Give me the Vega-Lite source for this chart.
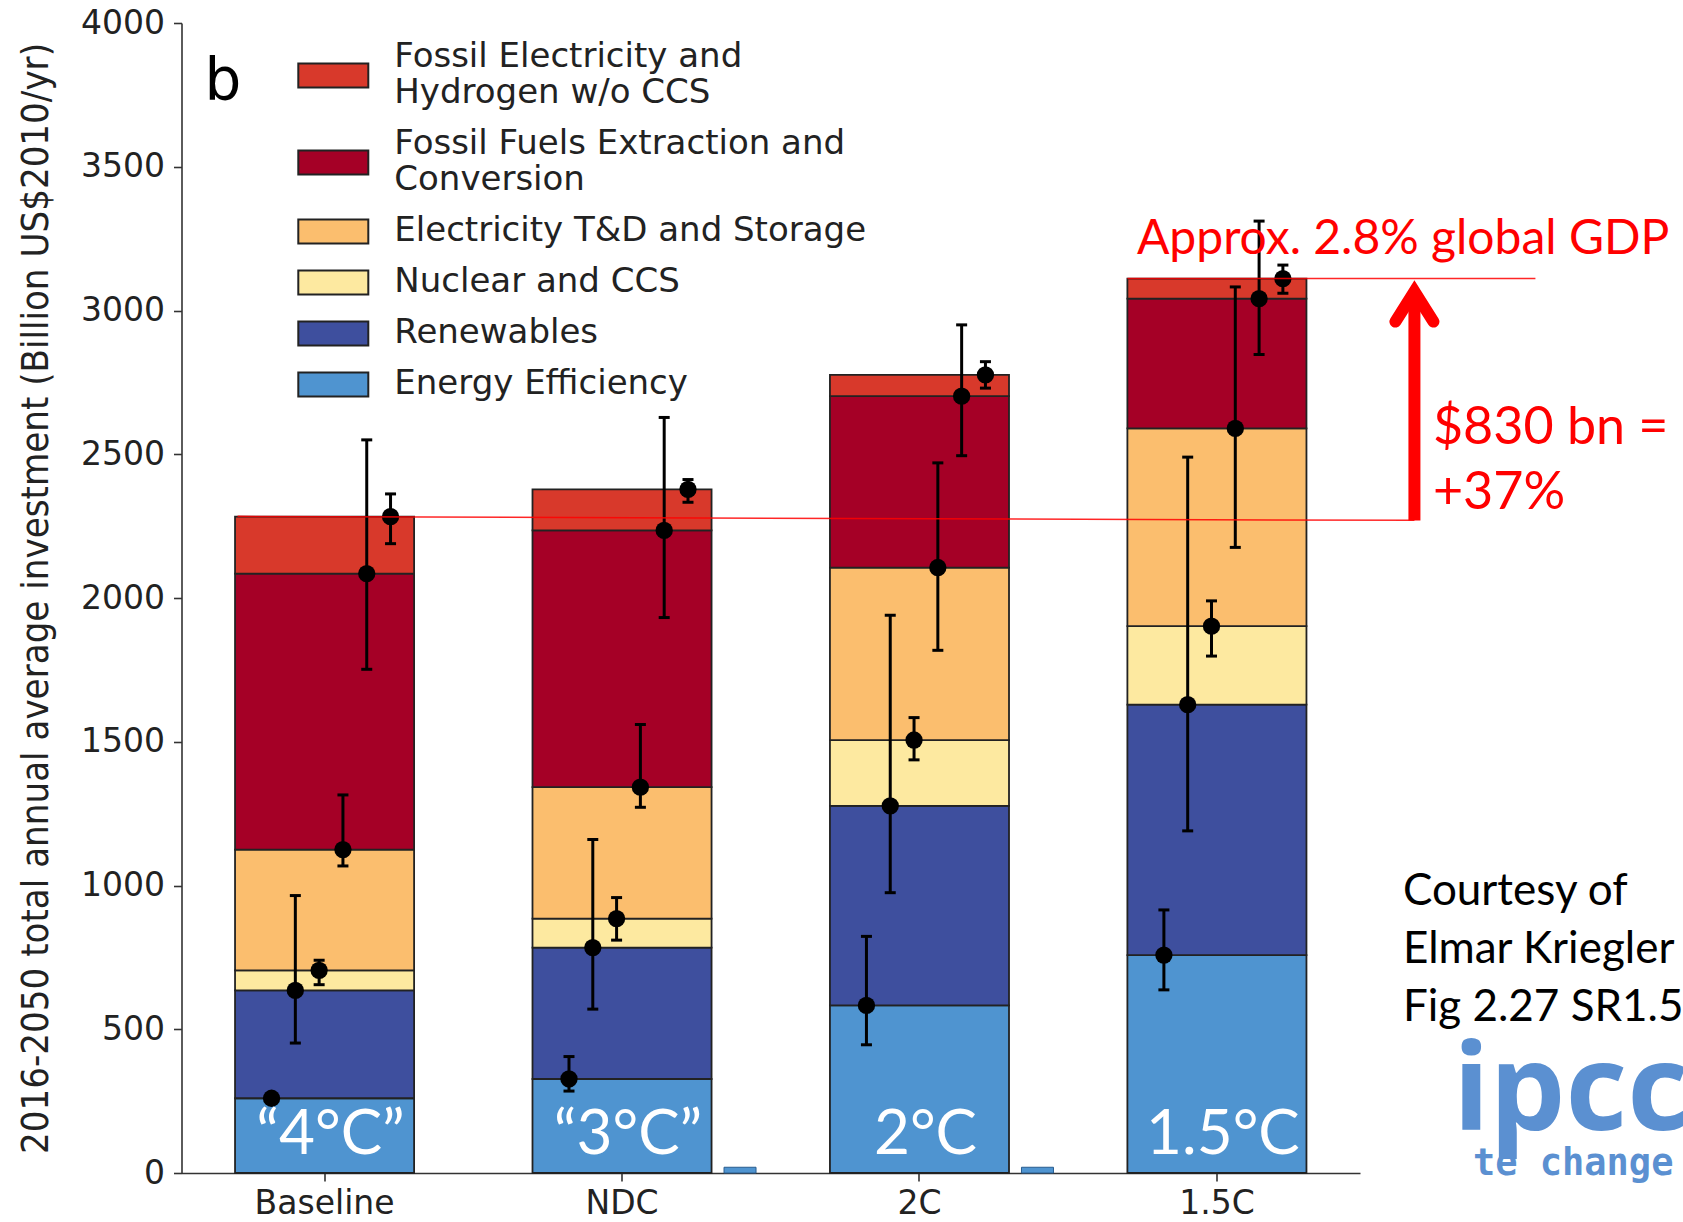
{
  "$schema": "https://vega.github.io/schema/vega-lite/v6.json",
  "width": 1178.5,
  "height": 1150,
  "autosize": {"type": "none"},
  "padding": {"left": 181.5, "top": 23, "right": 323, "bottom": 49},
  "background": "white",
  "config": {
    "view": {"stroke": null},
    "font": "DejaVu Sans",
    "axis": {
      "grid": false,
      "domainColor": "#333333",
      "domainWidth": 1.6,
      "tickColor": "#333333",
      "tickWidth": 1.6,
      "tickSize": 8,
      "labelColor": "#222222",
      "labelFont": "DejaVu Sans",
      "labelFontSize": 33,
      "titleFont": "DejaVu Sans Condensed",
      "titleFontSize": 38,
      "titleFontWeight": "normal",
      "titleColor": "#222222"
    }
  },
  "datasets": {
    "segments": [
      {"scenario": "Baseline", "category": "Energy Efficiency", "bottom": 0, "top": 260, "low": 260, "high": 260},
      {"scenario": "Baseline", "category": "Renewables", "bottom": 260, "top": 635, "low": 452, "high": 965},
      {"scenario": "Baseline", "category": "Nuclear and CCS", "bottom": 635, "top": 705, "low": 655, "high": 740},
      {"scenario": "Baseline", "category": "Electricity T&D and Storage", "bottom": 705, "top": 1125, "low": 1068, "high": 1315},
      {"scenario": "Baseline", "category": "Fossil Fuels Extraction and Conversion", "bottom": 1125, "top": 2085, "low": 1752, "high": 2550},
      {"scenario": "Baseline", "category": "Fossil Electricity and Hydrogen w/o CCS", "bottom": 2085, "top": 2283, "low": 2189, "high": 2362},
      {"scenario": "NDC", "category": "Energy Efficiency", "bottom": 0, "top": 327, "low": 285, "high": 405},
      {"scenario": "NDC", "category": "Renewables", "bottom": 327, "top": 784, "low": 570, "high": 1160},
      {"scenario": "NDC", "category": "Nuclear and CCS", "bottom": 784, "top": 885, "low": 810, "high": 958},
      {"scenario": "NDC", "category": "Electricity T&D and Storage", "bottom": 885, "top": 1342, "low": 1272, "high": 1560},
      {"scenario": "NDC", "category": "Fossil Fuels Extraction and Conversion", "bottom": 1342, "top": 2235, "low": 1932, "high": 2628},
      {"scenario": "NDC", "category": "Fossil Electricity and Hydrogen w/o CCS", "bottom": 2235, "top": 2378, "low": 2333, "high": 2412},
      {"scenario": "2C", "category": "Energy Efficiency", "bottom": 0, "top": 583, "low": 446, "high": 823},
      {"scenario": "2C", "category": "Renewables", "bottom": 583, "top": 1277, "low": 975, "high": 1940},
      {"scenario": "2C", "category": "Nuclear and CCS", "bottom": 1277, "top": 1506, "low": 1437, "high": 1584},
      {"scenario": "2C", "category": "Electricity T&D and Storage", "bottom": 1506, "top": 2106, "low": 1818, "high": 2470},
      {"scenario": "2C", "category": "Fossil Fuels Extraction and Conversion", "bottom": 2106, "top": 2702, "low": 2495, "high": 2950},
      {"scenario": "2C", "category": "Fossil Electricity and Hydrogen w/o CCS", "bottom": 2702, "top": 2776, "low": 2730, "high": 2822},
      {"scenario": "1.5C", "category": "Energy Efficiency", "bottom": 0, "top": 758, "low": 637, "high": 915},
      {"scenario": "1.5C", "category": "Renewables", "bottom": 758, "top": 1629, "low": 1190, "high": 2490},
      {"scenario": "1.5C", "category": "Nuclear and CCS", "bottom": 1629, "top": 1902, "low": 1798, "high": 1990},
      {"scenario": "1.5C", "category": "Electricity T&D and Storage", "bottom": 1902, "top": 2590, "low": 2176, "high": 3082},
      {"scenario": "1.5C", "category": "Fossil Fuels Extraction and Conversion", "bottom": 2590, "top": 3041, "low": 2847, "high": 3311},
      {"scenario": "1.5C", "category": "Fossil Electricity and Hydrogen w/o CCS", "bottom": 3041, "top": 3111, "low": 3060, "high": 3158}
    ],
    "stubs": [
      {"scenario": "NDC", "top": 20},
      {"scenario": "2C", "top": 20}
    ],
    "temps": [
      {"scenario": "Baseline", "temp": "“4°C”"},
      {"scenario": "NDC", "temp": "“3°C”"},
      {"scenario": "2C", "temp": "2°C"},
      {"scenario": "1.5C", "temp": "1.5°C"}
    ]
  },
  "layer": [
    {
      "data": {"name": "segments"},
      "mark": {"type": "bar", "stroke": "#222222", "strokeWidth": 1.8},
      "encoding": {
        "x": {
          "field": "scenario", "type": "nominal",
          "scale": {"domain": ["Baseline", "NDC", "2C", "1.5C"], "paddingInner": 0.398, "paddingOuter": 0.18},
          "axis": {"title": null, "labelAngle": 0, "labelPadding": 6}
        },
        "y": {
          "field": "top", "type": "quantitative",
          "scale": {"domain": [0, 4000], "nice": false, "zero": true},
          "axis": {
            "title": "2016-2050 total annual average investment (Billion US$2010/yr)",
            "values": [0, 500, 1000, 1500, 2000, 2500, 3000, 3500, 4000],
            "format": "d",
            "labelPadding": 9,
            "titlePadding": 25
          }
        },
        "y2": {"field": "bottom"},
        "color": {
          "field": "category", "type": "nominal",
          "scale": {
            "domain": ["Fossil Electricity and Hydrogen w/o CCS", "Fossil Fuels Extraction and Conversion", "Electricity T&D and Storage", "Nuclear and CCS", "Renewables", "Energy Efficiency"],
            "range": ["#d8392b", "#a50026", "#fbbe6e", "#fde9a0", "#3e4f9e", "#4f94d0"]
          },
          "legend": {
            "title": null,
            "orient": "none",
            "legendX": 134.8,
            "legendY": 35.4,
            "padding": 0,
            "symbolType": "M-3.5,-1.2H3.5V1.2H-3.5Z",
            "symbolSize": 400,
            "symbolStrokeColor": "#222222",
            "symbolStrokeWidth": 2,
            "symbolOpacity": 1,
            "labelFont": "DejaVu Sans",
            "labelFontSize": 34,
            "labelColor": "#222222",
            "labelLimit": 1000,
            "labelOffset": 44,
            "rowPadding": 17,
            "labelBaseline": {"expr": "indexof(datum.label, 'Fossil') == 0 ? 'line-bottom' : 'middle'"},
            "labelExpr": "datum.label == 'Fossil Electricity and Hydrogen w/o CCS' ? ['Fossil Electricity and', 'Hydrogen w/o CCS'] : datum.label == 'Fossil Fuels Extraction and Conversion' ? ['Fossil Fuels Extraction and', 'Conversion'] : datum.label"
          }
        }
      }
    },
    {
      "data": {"name": "stubs"},
      "mark": {"type": "bar", "width": 32, "xOffset": 118, "fill": "#4f94d0", "stroke": "#2a5d8f", "strokeWidth": 1},
      "encoding": {
        "x": {"field": "scenario", "type": "nominal"},
        "y": {"field": "top", "type": "quantitative"}
      }
    },
    {
      "data": {"name": "segments"},
      "mark": {"type": "rule", "color": "black", "strokeWidth": 3},
      "encoding": {
        "x": {"field": "scenario", "type": "nominal"},
        "xOffset": {
          "field": "category", "type": "nominal",
          "scale": {
            "domain": ["Energy Efficiency", "Renewables", "Nuclear and CCS", "Electricity T&D and Storage", "Fossil Fuels Extraction and Conversion", "Fossil Electricity and Hydrogen w/o CCS"],
            "range": [24.6, 167.4],
            "paddingInner": 0,
            "paddingOuter": 0
          }
        },
        "y": {"field": "high", "type": "quantitative"},
        "y2": {"field": "low"}
      }
    },
    {
      "data": {"name": "segments"},
      "mark": {"type": "tick", "orient": "horizontal", "color": "black", "size": 11, "thickness": 3, "opacity": 1},
      "encoding": {
        "x": {"field": "scenario", "type": "nominal"},
        "xOffset": {"field": "category", "type": "nominal"},
        "y": {"field": "high", "type": "quantitative"}
      }
    },
    {
      "data": {"name": "segments"},
      "mark": {"type": "tick", "orient": "horizontal", "color": "black", "size": 11, "thickness": 3, "opacity": 1},
      "encoding": {
        "x": {"field": "scenario", "type": "nominal"},
        "xOffset": {"field": "category", "type": "nominal"},
        "y": {"field": "low", "type": "quantitative"}
      }
    },
    {
      "data": {"name": "segments"},
      "mark": {"type": "point", "filled": true, "color": "black", "opacity": 1, "size": 300, "shape": "circle"},
      "encoding": {
        "x": {"field": "scenario", "type": "nominal"},
        "xOffset": {"field": "category", "type": "nominal"},
        "y": {"field": "top", "type": "quantitative"}
      }
    },
    {
      "data": {"name": "temps"},
      "mark": {"type": "text", "font": "Lato", "fontSize": 62, "color": "white", "align": "center", "baseline": "alphabetic", "dx": 6},
      "encoding": {
        "x": {"field": "scenario", "type": "nominal"},
        "y": {"datum": 66, "type": "quantitative"},
        "text": {"field": "temp"}
      }
    },
    {
      "data": {"values": [{"note": "b"}]},
      "mark": {"type": "text", "font": "DejaVu Sans", "fontSize": 58, "color": "black", "align": "left", "baseline": "alphabetic", "dx": -120},
      "encoding": {
        "x": {"datum": "Baseline", "type": "nominal"},
        "y": {"datum": 3732, "type": "quantitative"},
        "text": {"field": "note"}
      }
    },
    {
      "data": {"values": [{"note": "top line"}]},
      "mark": {"type": "rule", "color": "#ff0000", "strokeWidth": 1.5, "opacity": 0.85, "xOffset": -89.5, "x2Offset": 318.5},
      "encoding": {
        "x": {"datum": "1.5C", "type": "nominal"},
        "x2": {"datum": "1.5C"},
        "y": {"datum": 3111, "type": "quantitative"}
      }
    },
    {
      "data": {"values": [{"note": "baseline line"}]},
      "mark": {"type": "rule", "color": "#ff0000", "strokeWidth": 1.5, "opacity": 0.85, "xOffset": -87, "x2Offset": 197.5},
      "encoding": {
        "x": {"datum": "Baseline", "type": "nominal"},
        "x2": {"datum": "1.5C"},
        "y": {"datum": 2284, "type": "quantitative"},
        "y2": {"datum": 2270}
      }
    },
    {
      "data": {"values": [{"note": "arrow shaft"}]},
      "mark": {"type": "rule", "color": "#ff0000", "strokeWidth": 12, "xOffset": 197.5},
      "encoding": {
        "x": {"datum": "1.5C", "type": "nominal"},
        "y": {"datum": 2270, "type": "quantitative"},
        "y2": {"datum": 3055}
      }
    },
    {
      "data": {"values": [{"note": "arrow head"}]},
      "mark": {"type": "point", "shape": "M-1.9,4.3L0,1.3L1.9,4.3", "size": 400, "filled": false, "stroke": "#ff0000", "strokeWidth": 12, "strokeCap": "round", "strokeJoin": "miter", "opacity": 1, "xOffset": 197.5},
      "encoding": {
        "x": {"datum": "1.5C", "type": "nominal"},
        "y": {"datum": 3111, "type": "quantitative"}
      }
    },
    {
      "data": {"values": [{"note": "Approx. 2.8% global GDP"}]},
      "mark": {"type": "text", "font": "Lato", "fontSize": 48, "color": "#ff0000", "align": "left", "baseline": "alphabetic", "dx": -80},
      "encoding": {
        "x": {"datum": "1.5C", "type": "nominal"},
        "y": {"datum": 3197, "type": "quantitative"},
        "text": {"field": "note"}
      }
    },
    {
      "data": {"values": [{"note": "increase"}]},
      "mark": {"type": "text", "font": "Lato", "fontSize": 52, "lineHeight": 65, "color": "#ff0000", "align": "left", "baseline": "middle", "dx": 216},
      "encoding": {
        "x": {"datum": "1.5C", "type": "nominal"},
        "y": {"datum": 2590, "type": "quantitative"},
        "text": {"value": ["$830 bn =", "+37%"]}
      }
    },
    {
      "data": {"values": [{"note": "courtesy"}]},
      "mark": {"type": "text", "font": "Lato", "fontSize": 44, "lineHeight": 58, "color": "black", "align": "left", "baseline": "middle", "dx": 186},
      "encoding": {
        "x": {"datum": "1.5C", "type": "nominal"},
        "y": {"datum": 978, "type": "quantitative"},
        "text": {"value": ["Courtesy of", "Elmar Kriegler", "Fig 2.27 SR1.5"]}
      }
    },
    {
      "data": {"values": [{"note": "ipcc"}]},
      "mark": {"type": "text", "font": "Open Sans", "fontWeight": "bold", "fontSize": 120, "color": "#5b90d1", "align": "left", "baseline": "alphabetic", "dx": 236},
      "encoding": {
        "x": {"datum": "1.5C", "type": "nominal"},
        "y": {"datum": 148, "type": "quantitative"},
        "text": {"field": "note"}
      }
    },
    {
      "data": {"values": [{"note": "te change"}]},
      "mark": {"type": "text", "font": "DejaVu Sans Mono", "fontWeight": "bold", "fontSize": 37, "color": "#5b90d1", "align": "left", "baseline": "alphabetic", "dx": 256},
      "encoding": {
        "x": {"datum": "1.5C", "type": "nominal"},
        "y": {"datum": -7, "type": "quantitative"},
        "text": {"field": "note"}
      }
    }
  ]
}
